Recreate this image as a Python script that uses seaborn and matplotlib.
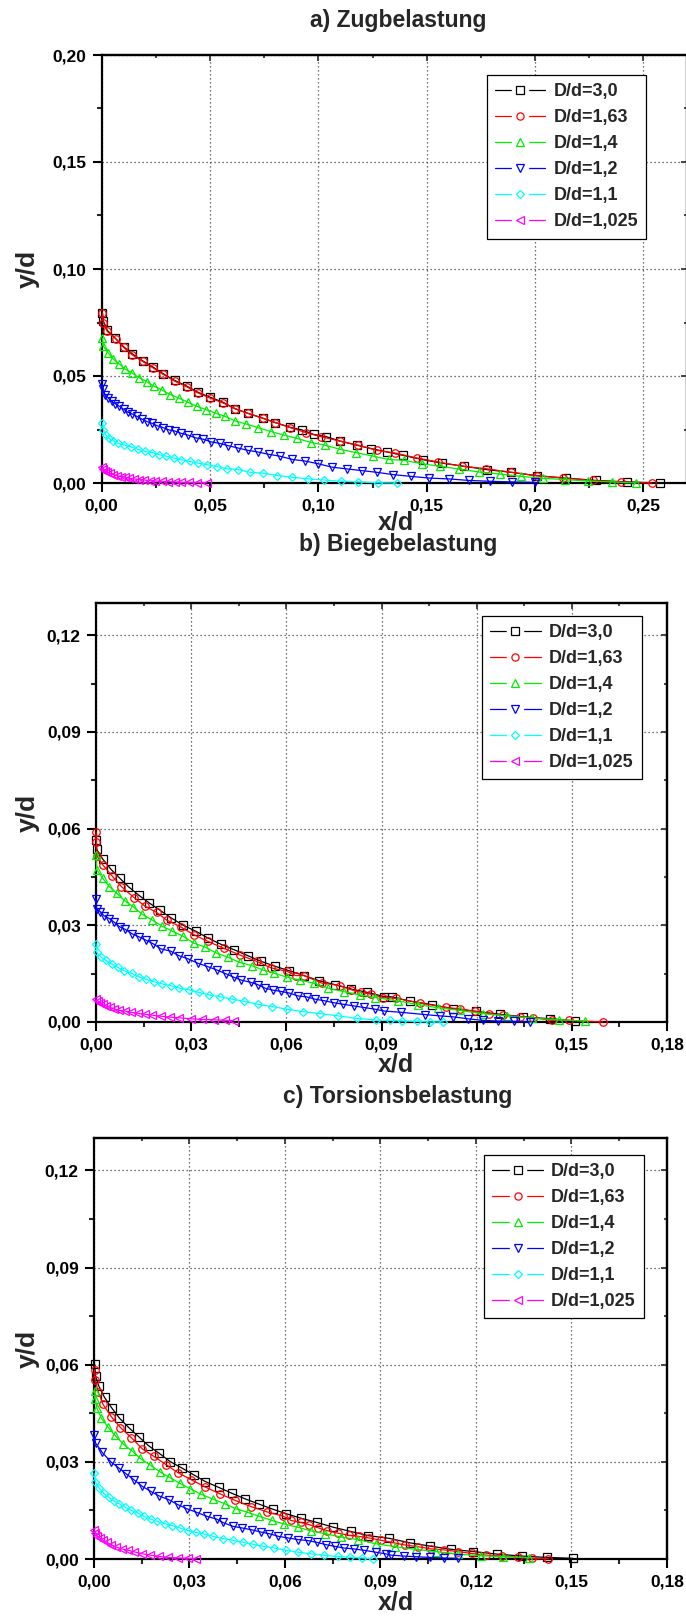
import matplotlib
matplotlib.use("Agg")
import numpy as np
import pandas as pd
import seaborn as sns
import matplotlib.pyplot as plt
from matplotlib.lines import Line2D
from matplotlib.legend_handler import HandlerTuple
from matplotlib.ticker import MultipleLocator, FuncFormatter

sns.set_theme(style="white")
plt.rcParams['font.family'] = ['Liberation Sans', 'DejaVu Sans']
plt.rcParams['font.weight'] = 'bold'

labels = ["D/d=3,0", "D/d=1,63", "D/d=1,4", "D/d=1,2", "D/d=1,1", "D/d=1,025"]
colors = ["#000000", "#ff0000", "#00ee00", "#0000ff", "#00ffff", "#ff00ff"]
markers = ["s", "o", "^", "v", "D", "<"]
titles = ["a) Zugbelastung", "b) Biegebelastung", "c) Torsionsbelastung"]

# ---------------- Panel a (Zugbelastung) ----------------
a_x_30 = [0.0003, 0.0008, 0.0026, 0.0062, 0.0101, 0.0142, 0.0189, 0.0235, 0.0283, 0.0337, 0.0392, 0.0444,
          0.0500, 0.0560, 0.0616, 0.0673, 0.0743, 0.0802, 0.0870, 0.0924, 0.0978, 0.1037, 0.1099, 0.1176,
          0.1243, 0.1316, 0.1392, 0.1482, 0.1569, 0.1674, 0.1780, 0.1889, 0.2008, 0.2142, 0.2280, 0.2424, 0.2578]
a_y_30 = [0.0795, 0.0756, 0.0713, 0.0677, 0.0637, 0.0603, 0.0571, 0.0543, 0.0511, 0.0479, 0.0453, 0.0424,
          0.0401, 0.0377, 0.0347, 0.0326, 0.0303, 0.0282, 0.0260, 0.0248, 0.0227, 0.0216, 0.0196, 0.0177,
          0.0161, 0.0145, 0.0129, 0.0109, 0.0093, 0.0078, 0.0062, 0.0050, 0.0034, 0.0023, 0.0012, 0.0005, 0.0000]
a_x_163 = [0.0003, 0.0008, 0.0026, 0.0065, 0.0101, 0.0142, 0.0189, 0.0235, 0.0283, 0.0337, 0.0392, 0.0444,
           0.0500, 0.0560, 0.0616, 0.0673, 0.0743, 0.0802, 0.0870, 0.0944, 0.1014, 0.1099, 0.1184, 0.1269,
           0.1354, 0.1454, 0.1554, 0.1662, 0.1774, 0.1889, 0.2008, 0.2131, 0.2265, 0.2395, 0.2538]
a_y_163 = [0.0795, 0.0749, 0.0708, 0.0674, 0.0634, 0.0598, 0.0568, 0.0539, 0.0508, 0.0476, 0.0450, 0.0421,
           0.0397, 0.0374, 0.0347, 0.0326, 0.0303, 0.0282, 0.0259, 0.0235, 0.0216, 0.0196, 0.0177, 0.0153,
           0.0140, 0.0117, 0.0098, 0.0078, 0.0067, 0.0050, 0.0034, 0.0023, 0.0012, 0.0005, 0.0000]
a_x_14 = [0.0003, 0.0008, 0.0031, 0.0054, 0.0082, 0.0108, 0.0142, 0.0173, 0.0209, 0.0240, 0.0279, 0.0317,
          0.0356, 0.0398, 0.0441, 0.0483, 0.0526, 0.0570, 0.0616, 0.0666, 0.0720, 0.0782, 0.0841, 0.0902,
          0.0967, 0.1029, 0.1099, 0.1172, 0.1251, 0.1324, 0.1395, 0.1477, 0.1562, 0.1651, 0.1743, 0.1838,
          0.1935, 0.2035, 0.2138, 0.2246, 0.2354, 0.2466]
a_y_14 = [0.0677, 0.0639, 0.0606, 0.0579, 0.0555, 0.0532, 0.0513, 0.0492, 0.0473, 0.0453, 0.0434, 0.0413,
          0.0397, 0.0377, 0.0358, 0.0342, 0.0326, 0.0311, 0.0290, 0.0276, 0.0259, 0.0240, 0.0224, 0.0208,
          0.0189, 0.0177, 0.0158, 0.0142, 0.0126, 0.0110, 0.0106, 0.0090, 0.0078, 0.0065, 0.0051, 0.0042,
          0.0031, 0.0022, 0.0016, 0.0009, 0.0005, 0.0000]
a_x_12 = [0.0003, 0.0008, 0.0015, 0.0031, 0.0046, 0.0062, 0.0082, 0.0101, 0.0121, 0.0142, 0.0163, 0.0186,
          0.0209, 0.0232, 0.0255, 0.0283, 0.0310, 0.0337, 0.0367, 0.0398, 0.0433, 0.0467, 0.0506, 0.0545,
          0.0585, 0.0627, 0.0673, 0.0720, 0.0771, 0.0824, 0.0879, 0.0937, 0.0998, 0.1063, 0.1130, 0.1200,
          0.1269, 0.1346, 0.1426, 0.1512, 0.1603, 0.1695, 0.1792, 0.1895, 0.2000]
a_y_12 = [0.0461, 0.0437, 0.0413, 0.0397, 0.0382, 0.0371, 0.0358, 0.0345, 0.0331, 0.0322, 0.0311, 0.0298,
          0.0287, 0.0279, 0.0268, 0.0259, 0.0248, 0.0243, 0.0232, 0.0224, 0.0211, 0.0205, 0.0192, 0.0185,
          0.0174, 0.0164, 0.0153, 0.0145, 0.0134, 0.0125, 0.0110, 0.0103, 0.0090, 0.0074, 0.0066, 0.0058,
          0.0050, 0.0039, 0.0031, 0.0023, 0.0019, 0.0012, 0.0008, 0.0005, 0.0003]
a_x_11 = [0.0003, 0.0008, 0.0019, 0.0034, 0.0054, 0.0077, 0.0105, 0.0135, 0.0166, 0.0198, 0.0232, 0.0266,
          0.0299, 0.0333, 0.0367, 0.0406, 0.0444, 0.0488, 0.0531, 0.0580, 0.0630, 0.0684, 0.0743, 0.0810,
          0.0879, 0.0952, 0.1026, 0.1104, 0.1184, 0.1274, 0.1362]
a_y_11 = [0.0282, 0.0248, 0.0224, 0.0208, 0.0197, 0.0185, 0.0177, 0.0169, 0.0158, 0.0148, 0.0142, 0.0132,
          0.0125, 0.0117, 0.0109, 0.0101, 0.0093, 0.0085, 0.0077, 0.0066, 0.0063, 0.0050, 0.0046, 0.0035,
          0.0027, 0.0019, 0.0014, 0.0008, 0.0005, 0.0001, 0.0000]
a_x_1025 = [0.0003, 0.0008, 0.0015, 0.0026, 0.0039, 0.0054, 0.0070, 0.0088, 0.0108, 0.0128, 0.0150, 0.0173,
            0.0197, 0.0221, 0.0248, 0.0276, 0.0305, 0.0336, 0.0367, 0.0402, 0.0441, 0.0485]
a_y_1025 = [0.0074, 0.0066, 0.0058, 0.0050, 0.0046, 0.0039, 0.0035, 0.0030, 0.0027, 0.0022, 0.0019, 0.0016,
            0.0014, 0.0011, 0.0009, 0.0008, 0.0006, 0.0005, 0.0003, 0.0003, 0.0002, 0.0002]

# ---------------- Panel b (Biegebelastung) ----------------
b_x_30 = [0.0000, 0.0002, 0.0021, 0.0047, 0.0075, 0.0102, 0.0134, 0.0167, 0.0201, 0.0237, 0.0275, 0.0314,
          0.0352, 0.0394, 0.0436, 0.0478, 0.0521, 0.0564, 0.0609, 0.0656, 0.0703, 0.0753, 0.0805, 0.0855,
          0.0907, 0.0932, 0.0989, 0.1058, 0.1126, 0.1198, 0.1274, 0.1347, 0.1432, 0.1511]
b_y_30 = [0.0566, 0.0536, 0.0506, 0.0474, 0.0446, 0.0420, 0.0394, 0.0370, 0.0347, 0.0323, 0.0300, 0.0282,
          0.0261, 0.0241, 0.0224, 0.0206, 0.0188, 0.0173, 0.0159, 0.0144, 0.0128, 0.0116, 0.0102, 0.0092,
          0.0079, 0.0078, 0.0065, 0.0054, 0.0041, 0.0033, 0.0024, 0.0016, 0.0010, 0.0003]
b_x_163 = [0.0000, 0.0001, 0.0004, 0.0021, 0.0050, 0.0080, 0.0120, 0.0155, 0.0191, 0.0223, 0.0267, 0.0308,
           0.0353, 0.0402, 0.0453, 0.0507, 0.0552, 0.0603, 0.0629, 0.0656, 0.0711, 0.0768, 0.0805, 0.0836,
           0.0868, 0.0904, 0.0947, 0.1021, 0.1103, 0.1147, 0.1195, 0.1240, 0.1284, 0.1337, 0.1379, 0.1437,
           0.1492, 0.1598]
b_y_163 = [0.0589, 0.0560, 0.0514, 0.0488, 0.0454, 0.0420, 0.0386, 0.0359, 0.0340, 0.0316, 0.0295, 0.0271,
           0.0250, 0.0229, 0.0208, 0.0188, 0.0168, 0.0157, 0.0144, 0.0144, 0.0121, 0.0113, 0.0100, 0.0092,
           0.0086, 0.0076, 0.0073, 0.0059, 0.0045, 0.0041, 0.0033, 0.0026, 0.0021, 0.0016, 0.0013, 0.0005,
           0.0005, 0.0000]
b_x_14 = [0.0000, 0.0002, 0.0021, 0.0042, 0.0066, 0.0091, 0.0118, 0.0146, 0.0178, 0.0207, 0.0240, 0.0275,
          0.0308, 0.0345, 0.0379, 0.0416, 0.0453, 0.0491, 0.0528, 0.0562, 0.0603, 0.0643, 0.0688, 0.0732,
          0.0782, 0.0831, 0.0880, 0.0953, 0.1016, 0.1079, 0.1147, 0.1219, 0.1295, 0.1376, 0.1458, 0.1542]
b_y_14 = [0.0519, 0.0472, 0.0446, 0.0420, 0.0399, 0.0376, 0.0357, 0.0334, 0.0316, 0.0298, 0.0282, 0.0266,
          0.0245, 0.0232, 0.0214, 0.0201, 0.0185, 0.0175, 0.0161, 0.0151, 0.0139, 0.0130, 0.0120, 0.0105,
          0.0094, 0.0084, 0.0076, 0.0065, 0.0054, 0.0044, 0.0036, 0.0026, 0.0019, 0.0012, 0.0007, 0.0003]
b_x_12 = [0.0000, 0.0002, 0.0014, 0.0026, 0.0042, 0.0057, 0.0075, 0.0091, 0.0113, 0.0136, 0.0159, 0.0180,
          0.0204, 0.0235, 0.0261, 0.0290, 0.0322, 0.0352, 0.0382, 0.0411, 0.0434, 0.0458, 0.0488, 0.0510,
          0.0533, 0.0557, 0.0582, 0.0609, 0.0636, 0.0664, 0.0690, 0.0719, 0.0749, 0.0779, 0.0812, 0.0845,
          0.0878, 0.0909, 0.0963, 0.1037, 0.1084, 0.1126, 0.1172, 0.1219, 0.1268, 0.1318, 0.1368]
b_y_12 = [0.0383, 0.0352, 0.0342, 0.0329, 0.0321, 0.0310, 0.0295, 0.0288, 0.0274, 0.0264, 0.0253, 0.0243,
          0.0227, 0.0220, 0.0206, 0.0196, 0.0182, 0.0172, 0.0161, 0.0149, 0.0139, 0.0130, 0.0123, 0.0116,
          0.0105, 0.0099, 0.0095, 0.0090, 0.0081, 0.0078, 0.0071, 0.0066, 0.0060, 0.0055, 0.0050, 0.0045,
          0.0040, 0.0034, 0.0030, 0.0023, 0.0019, 0.0016, 0.0010, 0.0005, 0.0003, 0.0002, 0.0000]
b_x_11 = [0.0000, 0.0002, 0.0016, 0.0031, 0.0050, 0.0068, 0.0089, 0.0112, 0.0134, 0.0157, 0.0183, 0.0209,
          0.0235, 0.0263, 0.0293, 0.0324, 0.0357, 0.0392, 0.0429, 0.0468, 0.0510, 0.0554, 0.0601, 0.0653,
          0.0706, 0.0763, 0.0824, 0.0883, 0.0926, 0.0965, 0.1011, 0.1053, 0.1095]
b_y_11 = [0.0243, 0.0217, 0.0201, 0.0191, 0.0180, 0.0170, 0.0159, 0.0151, 0.0141, 0.0133, 0.0125, 0.0118,
          0.0113, 0.0105, 0.0100, 0.0092, 0.0084, 0.0078, 0.0071, 0.0064, 0.0055, 0.0048, 0.0040, 0.0032,
          0.0026, 0.0019, 0.0011, 0.0006, 0.0005, 0.0003, 0.0002, 0.0000, 0.0000]
b_x_1025 = [0.0000, 0.0005, 0.0013, 0.0021, 0.0031, 0.0044, 0.0057, 0.0073, 0.0091, 0.0110, 0.0131, 0.0154,
            0.0178, 0.0204, 0.0233, 0.0263, 0.0298, 0.0334, 0.0371, 0.0408, 0.0434]
b_y_1025 = [0.0071, 0.0066, 0.0060, 0.0055, 0.0050, 0.0045, 0.0041, 0.0036, 0.0034, 0.0030, 0.0027, 0.0024,
            0.0021, 0.0018, 0.0015, 0.0013, 0.0010, 0.0008, 0.0007, 0.0005, 0.0004]

# ---------------- Panel c (Torsionsbelastung) ----------------
c_x_30 = [0.0002, 0.0005, 0.0015, 0.0033, 0.0056, 0.0080, 0.0109, 0.0140, 0.0171, 0.0204, 0.0239, 0.0276,
          0.0313, 0.0350, 0.0392, 0.0433, 0.0474, 0.0517, 0.0561, 0.0603, 0.0650, 0.0700, 0.0752, 0.0807,
          0.0862, 0.0926, 0.0992, 0.1054, 0.1122, 0.1192, 0.1267, 0.1344, 0.1422, 0.1505]
c_y_30 = [0.0601, 0.0565, 0.0534, 0.0499, 0.0466, 0.0435, 0.0406, 0.0378, 0.0350, 0.0327, 0.0301, 0.0281,
          0.0260, 0.0239, 0.0221, 0.0203, 0.0186, 0.0170, 0.0154, 0.0140, 0.0126, 0.0113, 0.0098, 0.0085,
          0.0072, 0.0064, 0.0050, 0.0040, 0.0030, 0.0023, 0.0015, 0.0009, 0.0005, 0.0002]
c_x_163 = [0.0002, 0.0004, 0.0013, 0.0028, 0.0054, 0.0083, 0.0117, 0.0152, 0.0188, 0.0227, 0.0263, 0.0305,
           0.0350, 0.0396, 0.0443, 0.0493, 0.0545, 0.0595, 0.0619, 0.0650, 0.0676, 0.0705, 0.0731, 0.0765,
           0.0801, 0.0831, 0.0864, 0.0901, 0.0942, 0.0978, 0.1018, 0.1060, 0.1100, 0.1143, 0.1187, 0.1232,
           0.1281, 0.1331, 0.1377, 0.1427]
c_y_163 = [0.0584, 0.0553, 0.0517, 0.0478, 0.0440, 0.0406, 0.0375, 0.0340, 0.0317, 0.0291, 0.0267, 0.0245,
           0.0222, 0.0201, 0.0181, 0.0162, 0.0145, 0.0132, 0.0119, 0.0113, 0.0106, 0.0096, 0.0088, 0.0080,
           0.0073, 0.0070, 0.0065, 0.0058, 0.0050, 0.0043, 0.0038, 0.0031, 0.0028, 0.0023, 0.0017, 0.0012,
           0.0009, 0.0005, 0.0002, 0.0001]
c_x_14 = [0.0002, 0.0004, 0.0009, 0.0023, 0.0044, 0.0065, 0.0091, 0.0119, 0.0145, 0.0175, 0.0206, 0.0237,
          0.0269, 0.0302, 0.0336, 0.0373, 0.0410, 0.0446, 0.0483, 0.0519, 0.0559, 0.0598, 0.0640, 0.0681,
          0.0726, 0.0775, 0.0828, 0.0885, 0.0947, 0.1010, 0.1075, 0.1142, 0.1215, 0.1286, 0.1368]
c_y_14 = [0.0520, 0.0494, 0.0466, 0.0435, 0.0407, 0.0383, 0.0356, 0.0334, 0.0311, 0.0291, 0.0270, 0.0252,
          0.0234, 0.0217, 0.0200, 0.0185, 0.0171, 0.0155, 0.0144, 0.0132, 0.0119, 0.0108, 0.0098, 0.0087,
          0.0078, 0.0068, 0.0060, 0.0047, 0.0038, 0.0030, 0.0023, 0.0015, 0.0010, 0.0007, 0.0004]
c_x_12 = [0.0000, 0.0005, 0.0026, 0.0054, 0.0078, 0.0101, 0.0125, 0.0152, 0.0178, 0.0204, 0.0235, 0.0263,
          0.0292, 0.0323, 0.0354, 0.0386, 0.0404, 0.0436, 0.0464, 0.0496, 0.0525, 0.0551, 0.0579, 0.0610,
          0.0640, 0.0671, 0.0702, 0.0730, 0.0757, 0.0784, 0.0817, 0.0848, 0.0885, 0.0916, 0.0933, 0.0973,
          0.1013, 0.1054, 0.1100, 0.1143]
c_y_12 = [0.0383, 0.0358, 0.0329, 0.0299, 0.0281, 0.0263, 0.0245, 0.0224, 0.0209, 0.0195, 0.0183, 0.0168,
          0.0155, 0.0144, 0.0132, 0.0123, 0.0113, 0.0101, 0.0096, 0.0090, 0.0083, 0.0078, 0.0070, 0.0065,
          0.0060, 0.0057, 0.0051, 0.0044, 0.0039, 0.0034, 0.0031, 0.0027, 0.0021, 0.0016, 0.0012, 0.0009,
          0.0007, 0.0005, 0.0003, 0.0002]
c_x_11 = [0.0000, 0.0004, 0.0016, 0.0030, 0.0046, 0.0063, 0.0080, 0.0098, 0.0117, 0.0138, 0.0157, 0.0178,
          0.0199, 0.0222, 0.0245, 0.0269, 0.0295, 0.0321, 0.0347, 0.0375, 0.0404, 0.0436, 0.0467, 0.0498,
          0.0532, 0.0566, 0.0603, 0.0640, 0.0681, 0.0723, 0.0765, 0.0804, 0.0843, 0.0875]
c_y_11 = [0.0265, 0.0239, 0.0219, 0.0203, 0.0191, 0.0179, 0.0170, 0.0160, 0.0150, 0.0142, 0.0132, 0.0123,
          0.0116, 0.0109, 0.0103, 0.0096, 0.0088, 0.0082, 0.0077, 0.0070, 0.0063, 0.0058, 0.0052, 0.0046,
          0.0039, 0.0034, 0.0027, 0.0021, 0.0016, 0.0011, 0.0008, 0.0005, 0.0003, 0.0001]
c_x_1025 = [0.0000, 0.0004, 0.0009, 0.0018, 0.0028, 0.0041, 0.0054, 0.0070, 0.0088, 0.0107, 0.0127, 0.0152,
            0.0177, 0.0204, 0.0232, 0.0263, 0.0295, 0.0321]
c_y_1025 = [0.0090, 0.0080, 0.0072, 0.0065, 0.0058, 0.0051, 0.0044, 0.0037, 0.0031, 0.0027, 0.0022, 0.0016,
            0.0012, 0.0008, 0.0005, 0.0003, 0.0002, 0.0001]

panel_a = [(a_x_30, a_y_30), (a_x_163, a_y_163), (a_x_14, a_y_14), (a_x_12, a_y_12), (a_x_11, a_y_11), (a_x_1025, a_y_1025)]
panel_b = [(b_x_30, b_y_30), (b_x_163, b_y_163), (b_x_14, b_y_14), (b_x_12, b_y_12), (b_x_11, b_y_11), (b_x_1025, b_y_1025)]
panel_c = [(c_x_30, c_y_30), (c_x_163, c_y_163), (c_x_14, c_y_14), (c_x_12, c_y_12), (c_x_11, c_y_11), (c_x_1025, c_y_1025)]

W, H = 686, 1616
fig = plt.figure(figsize=(W / 100, H / 100), dpi=100)


def rect(left, right, top, bottom):
    return [left / W, 1 - bottom / H, (right - left) / W, (bottom - top) / H]


specs = [
    dict(data=panel_a, rect=rect(101.7, 686.8, 55, 483), xlim=(0, 0.27), ylim=(0, 0.20),
         xmaj=0.05, ymaj=0.05, title_y=20, xlab_y=523, leg=(0.658, 0.953)),
    dict(data=panel_b, rect=rect(96, 667, 603, 1022), xlim=(0, 0.18), ylim=(0, 0.13),
         xmaj=0.03, ymaj=0.03, title_y=545, xlab_y=1064, leg=(0.676, 0.969)),
    dict(data=panel_c, rect=rect(94, 667, 1138, 1559), xlim=(0, 0.18), ylim=(0, 0.13),
         xmaj=0.03, ymaj=0.03, title_y=1097, xlab_y=1602, leg=(0.681, 0.960)),
]

fmt = FuncFormatter(lambda v, p: f"{v:.2f}".replace(".", ","))

for i, sp in enumerate(specs):
    ax = fig.add_axes(sp["rect"])
    ax.set_facecolor("white")
    for (xs, ys), c, m, lab in zip(sp["data"], colors, markers, labels):
        df = pd.DataFrame({"x": xs, "y": ys})
        sns.lineplot(data=df, x="x", y="y", ax=ax, estimator=None, sort=False,
                     color=c, lw=0.9, marker=m, markersize=5.4 if m != "D" else 4.5,
                     markerfacecolor="none", markeredgecolor=c, markeredgewidth=0.9,
                     legend=False, clip_on=False, zorder=3)
    ax.set_xlim(*sp["xlim"])
    ax.set_ylim(*sp["ylim"])
    ax.set_xlabel("")
    ax.set_ylabel("")
    ax.xaxis.set_major_locator(MultipleLocator(sp["xmaj"]))
    ax.xaxis.set_minor_locator(MultipleLocator(sp["xmaj"] / 2))
    ax.yaxis.set_major_locator(MultipleLocator(sp["ymaj"]))
    ax.yaxis.set_minor_locator(MultipleLocator(sp["ymaj"] / 2))
    ax.xaxis.set_major_formatter(fmt)
    ax.yaxis.set_major_formatter(fmt)
    ax.tick_params(which="major", direction="out", length=6.2, width=1.5, pad=4.8,
                   labelsize=12.5, colors="black", bottom=True, left=True, top=False, right=False)
    ax.tick_params(which="minor", direction="out", length=3.6, width=1.5,
                   bottom=True, left=True, top=False, right=False)
    for lbl in ax.get_xticklabels() + ax.get_yticklabels():
        lbl.set_fontweight("bold")
    ax.grid(True, which="major", color="#444444", linestyle=(0, (1, 2.2)), linewidth=0.9, zorder=0)
    ax.set_axisbelow(True)
    for s in ax.spines.values():
        s.set_visible(True)
        s.set_color("black")
        s.set_linewidth(1.6)

    # inward ticks on top and right
    sx = ax.secondary_xaxis("top")
    sx.xaxis.set_major_locator(MultipleLocator(sp["xmaj"]))
    sx.xaxis.set_minor_locator(MultipleLocator(sp["xmaj"] / 2))
    sx.tick_params(which="major", direction="in", length=4, width=1.2, labeltop=False)
    sx.tick_params(which="minor", direction="in", length=2.5, width=1.2, labeltop=False)
    sx.spines["top"].set_linewidth(1.6)
    sy = ax.secondary_yaxis("right")
    sy.yaxis.set_major_locator(MultipleLocator(sp["ymaj"]))
    sy.yaxis.set_minor_locator(MultipleLocator(sp["ymaj"] / 2))
    sy.tick_params(which="major", direction="in", length=4, width=1.2, labelright=False)
    sy.tick_params(which="minor", direction="in", length=2.5, width=1.2, labelright=False)
    sy.spines["right"].set_linewidth(1.6)

    # legend with a gap around each marker
    handles = []
    for c, m in zip(colors, markers):
        ln = Line2D([], [], color=c, lw=0.9)
        mask = Line2D([], [], ls="none", marker="s", markersize=11, markerfacecolor="white",
                      markeredgecolor="white")
        mk = Line2D([], [], ls="none", marker=m, markersize=5.2 if m != "D" else 4.3,
                    markerfacecolor="none", markeredgecolor=c, markeredgewidth=0.9)
        handles.append((ln, mask, mk))
    leg = ax.legend(handles, labels, handler_map={tuple: HandlerTuple(ndivide=1, pad=0)},
                    loc="upper left", bbox_to_anchor=sp["leg"], borderaxespad=0,
                    prop={"weight": "bold", "size": 13}, frameon=True, fancybox=False,
                    edgecolor="black", framealpha=1, labelspacing=0.5, handlelength=2.8,
                    handletextpad=0.45, borderpad=0.45, numpoints=1)
    leg.get_frame().set_linewidth(0.9)
    leg.set_zorder(5)

    fig.text(398 / W, 1 - sp["title_y"] / H, titles[i], ha="center", va="center",
             fontsize=16.5, fontweight="bold")
    fig.text(396 / W, 1 - sp["xlab_y"] / H, "x/d", ha="center", va="center",
             fontsize=18, fontweight="bold")
    yc = (sp["rect"][1] + sp["rect"][3] / 2)
    fig.text(28 / W, yc, "y/d", ha="center", va="center", rotation=90,
             fontsize=19, fontweight="bold")

fig.savefig("out.png", dpi=100, facecolor="white")
